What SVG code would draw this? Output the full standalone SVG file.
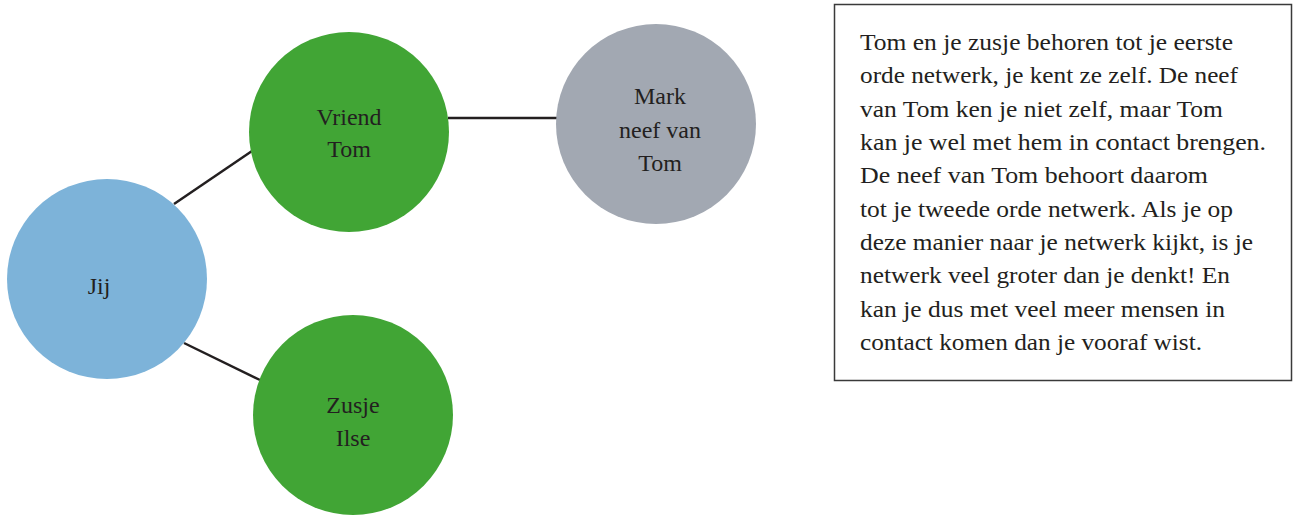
<svg xmlns="http://www.w3.org/2000/svg" width="1293" height="517" viewBox="0 0 1293 517">
<style>
.lbl{font-size:24px;fill:#231f20;text-anchor:middle}
.body{font-size:23px;fill:#231f20}
.edge{stroke:#231f20;stroke-width:2.5;fill:none}
.green{fill:#41a535}
</style>
<rect width="1293" height="517" fill="#ffffff"/>
<g id="connectors">
<line class="edge" x1="174" y1="204" x2="252" y2="151"/>
<line class="edge" x1="184" y1="343" x2="260" y2="380"/>
<line class="edge" x1="448" y1="118" x2="557" y2="118"/>
</g>
<g font-family="Liberation Serif, Times New Roman, serif">
<g id="node-jij">
<circle cx="107" cy="279" r="100" fill="#7db3d9"/>
<text class="lbl" x="99" y="294">Jij</text>
</g>
<g id="node-vriend-tom">
<circle class="green" cx="349" cy="132" r="100"/>
<text class="lbl" x="349" y="125">Vriend</text>
<text class="lbl" x="349" y="157">Tom</text>
</g>
<g id="node-zusje-ilse">
<circle class="green" cx="353" cy="415" r="100"/>
<text class="lbl" x="353" y="413">Zusje</text>
<text class="lbl" x="353" y="446">Ilse</text>
</g>
<g id="node-mark">
<circle cx="656" cy="124" r="100" fill="#a2a8b2"/>
<text class="lbl" x="660" y="104">Mark</text>
<text class="lbl" x="660" y="138">neef van</text>
<text class="lbl" x="660" y="171">Tom</text>
</g>
<g id="textbox">
<rect x="834.5" y="4.5" width="457" height="376" fill="#ffffff" stroke="#3a3a3a" stroke-width="1.5"/>
<text class="body" x="860" y="50" textLength="373" lengthAdjust="spacingAndGlyphs">Tom en je zusje behoren tot je eerste</text>
<text class="body" x="860" y="83.3" textLength="378" lengthAdjust="spacingAndGlyphs">orde netwerk, je kent ze zelf. De neef</text>
<text class="body" x="860" y="116.7" textLength="363" lengthAdjust="spacingAndGlyphs">van Tom ken je niet zelf, maar Tom</text>
<text class="body" x="860" y="150" textLength="406" lengthAdjust="spacingAndGlyphs">kan je wel met hem in contact brengen.</text>
<text class="body" x="860" y="183.3" textLength="348" lengthAdjust="spacingAndGlyphs">De neef van Tom behoort daarom</text>
<text class="body" x="860" y="216.7" textLength="373" lengthAdjust="spacingAndGlyphs">tot je tweede orde netwerk. Als je op</text>
<text class="body" x="860" y="250" textLength="393" lengthAdjust="spacingAndGlyphs">deze manier naar je netwerk kijkt, is je</text>
<text class="body" x="860" y="283.3" textLength="370" lengthAdjust="spacingAndGlyphs">netwerk veel groter dan je denkt! En</text>
<text class="body" x="860" y="316.7" textLength="365" lengthAdjust="spacingAndGlyphs">kan je dus met veel meer mensen in</text>
<text class="body" x="860" y="350" textLength="342" lengthAdjust="spacingAndGlyphs">contact komen dan je vooraf wist.</text>
</g>
</g>
</svg>
